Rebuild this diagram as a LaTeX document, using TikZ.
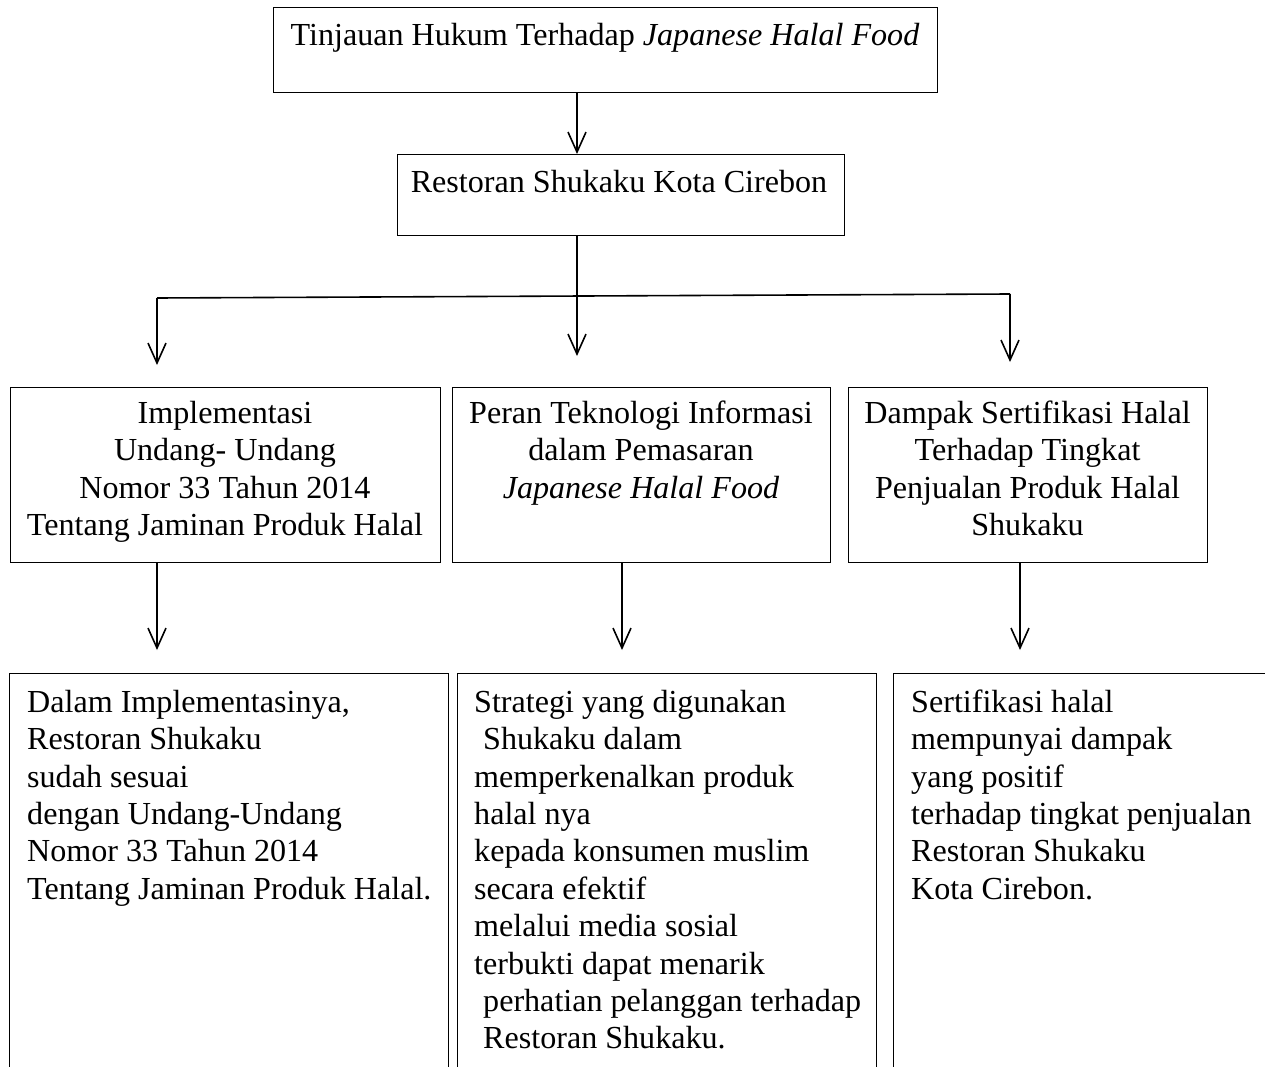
\documentclass[tikz,border=0pt]{standalone}
\usepackage{fontspec}
\setmainfont{Liberation Serif}
\usetikzlibrary{arrows.meta}
\begin{document}
\begin{tikzpicture}[x=1pt,y=-1pt,
  box/.style={draw, line width=1pt, inner sep=0pt, anchor=north west, minimum height=#1},
  box/.default=175pt,
  txt/.style={inner sep=0pt, font=\fontsize{32.1}{37.4}\selectfont},
  ctxt/.style={txt, anchor=north, align=center},
  ltxt/.style={txt, anchor=north west, align=left},
  arr/.style={line width=1.6pt, -{Straight Barb[length=20pt,width=18pt]}},
  ln/.style={line width=1.6pt}
]
\path[use as bounding box] (0,0) rectangle (1265,1067);
\clip (0,0) rectangle (1265,1067);

% top
\node[box=85pt, minimum width=664pt] (top) at (273,7) {};
\node[txt, anchor=base] (toptxt) at (605,46) {Tinjauan Hukum Terhadap \textit{Japanese Halal Food}};

\node[box=81pt, minimum width=447pt] (resto) at (397,154) {};
\node[txt, anchor=base] (restotxt) at (619,193) {Restoran Shukaku Kota Cirebon};

% branch
\coordinate (rs) at (577,235);
\coordinate (bl) at (157,298);
\coordinate (br) at (1010,294);
\coordinate (tl) at (157,365);
\coordinate (tm) at (577,356);
\coordinate (tr) at (1010,362);
\draw[arr] (rs |- top.south) -- (rs |- resto.north);
\draw[ln] (bl) -- (br);
\draw[arr] (rs |- resto.south) -- (tm);
\draw[arr] (bl) -- (tl);
\draw[arr] (br) -- (tr);

% middle row
\node[box, minimum width=430pt] (m1) at (10,387) {};
\node[box, minimum width=378pt] (m2) at (452,387) {};
\node[box, minimum width=359pt] (m3) at (848,387) {};
\node[ctxt] (m1t) at (225,397) {\strut Implementasi\\Undang- Undang\\Nomor 33 Tahun 2014\\Tentang Jaminan Produk Halal};
\node[ctxt] (m2t) at (641,397) {\strut Peran Teknologi Informasi\\dalam Pemasaran\\\textit{Japanese Halal Food}};
\node[ctxt] (m3t) at (1027.5,397) {\strut Dampak Sertifikasi Halal\\Terhadap Tingkat\\Penjualan Produk Halal\\Shukaku};

% arrows to bottom
\coordinate (a1) at (157,650);
\coordinate (a2) at (622,650);
\coordinate (a3) at (1020,650);
\draw[arr] (m1.south -| a1) -- (a1);
\draw[arr] (m2.south -| a2) -- (a2);
\draw[arr] (m3.south -| a3) -- (a3);

% bottom row
\node[box=440pt, minimum width=439pt] (b1) at (9,673) {};
\node[box=440pt, minimum width=419pt] (b2) at (457,673) {};
\node[box=440pt, minimum width=420pt] (b3) at (893,673) {};
\node[ltxt] (b1t) at (27,686) {\strut Dalam Implementasinya,\\Restoran Shukaku\\sudah sesuai\\dengan Undang-Undang\\Nomor 33 Tahun 2014\\Tentang Jaminan Produk Halal.};
\node[ltxt] (b2t) at (474,686) {\strut Strategi yang digunakan\\\hspace*{9pt}Shukaku dalam\\memperkenalkan produk\\halal nya\\kepada konsumen muslim\\secara efektif\\melalui media sosial\\terbukti dapat menarik\\\hspace*{9pt}perhatian pelanggan terhadap\\\hspace*{9pt}Restoran Shukaku.};
\node[ltxt] (b3t) at (911,686) {\strut Sertifikasi halal\\mempunyai dampak\\yang positif\\terhadap tingkat penjualan\\Restoran Shukaku\\Kota Cirebon.};
\end{tikzpicture}
\end{document}
